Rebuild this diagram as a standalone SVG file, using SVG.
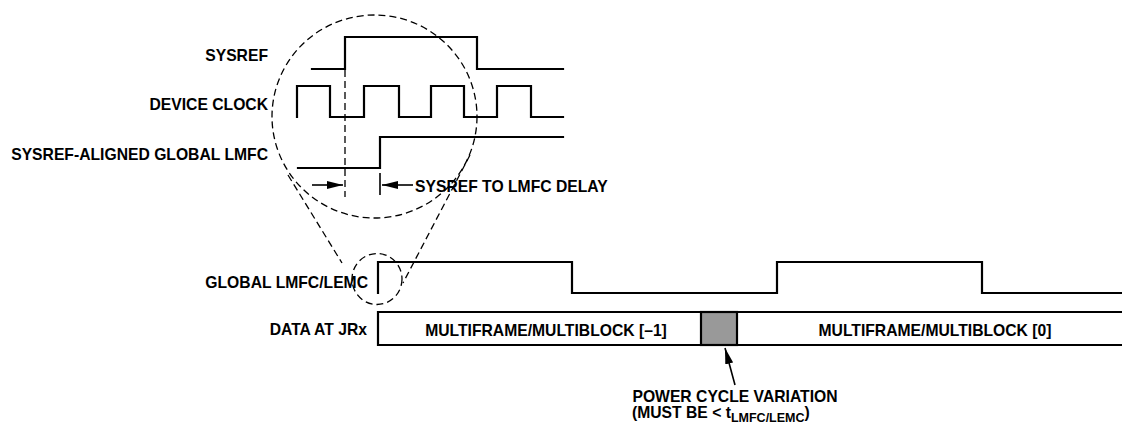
<svg xmlns="http://www.w3.org/2000/svg" width="1122" height="423" viewBox="0 0 1122 423">
<style>
text{font-family:"Liberation Sans",Arial,sans-serif;font-weight:bold;font-size:15.7px;fill:#000}
.w{fill:none;stroke:#000;stroke-width:2.2;stroke-linejoin:miter;stroke-linecap:square}
.d{fill:none;stroke:#000;stroke-width:1.3;stroke-dasharray:7 4}
.a{stroke:#000;stroke-width:1.6;fill:none}
.end{text-anchor:end}
.mid{text-anchor:middle}
.sub{font-size:12.5px}
</style>
<defs>
<marker id="ah" viewBox="0 0 16 8" refX="16" refY="4" markerWidth="16" markerHeight="8" markerUnits="userSpaceOnUse" orient="auto"><path d="M0,0 L16,4 L0,8 z" fill="#000"/></marker>
</defs>
<rect width="1122" height="423" fill="#fff"/>
<g id="sysref">
<text class="end" x="268" y="61">SYSREF</text>
<path class="w" d="M312,69 H345 V37 H477 V69 H563"/>
</g>
<g id="device-clock">
<text class="end" x="268" y="110">DEVICE CLOCK</text>
<path class="w" d="M297,117 V86 H330 V117 H364 V86 H399 V117 H431 V86 H464 V117 H497 V86 H531 V117 H563"/>
</g>
<g id="sysref-aligned-lmfc">
<text class="end" x="268" y="160">SYSREF-ALIGNED GLOBAL LMFC</text>
<path class="w" d="M298,168 H380 V137 H563"/>
</g>
<g id="delay-label">
<text x="415" y="192">SYSREF TO LMFC DELAY</text>
</g>
<g id="global-lmfc">
<text class="end" x="368" y="288">GLOBAL LMFC/LEMC</text>
<path class="w" d="M378,293 V262 H572 V293 H777 V262 H982 V293 H1124"/>
</g>
<g id="data-at-jrx">
<text class="end" x="367" y="335">DATA AT JRx</text>
<path class="w" d="M1124,312 H378 V345 H1124"/>
<rect x="701" y="312" width="36" height="33" fill="#999" stroke="#000" stroke-width="2.2"/>
<text class="mid" x="546" y="336">MULTIFRAME/MULTIBLOCK [–1]</text>
<text class="mid" x="935" y="336">MULTIFRAME/MULTIBLOCK [0]</text>
</g>
<g id="power-cycle-label">
<text class="mid" x="735" y="402">POWER CYCLE VARIATION</text>
<text x="632" y="418">(MUST BE &lt; t<tspan class="sub" dy="4">LMFC/LEMC</tspan><tspan dy="-4">)</tspan></text>
</g>
<g id="zoom-callout">
<ellipse class="d" cx="374.5" cy="116.5" rx="102.5" ry="101.5"/>
<ellipse class="d" cx="377" cy="279" rx="25" ry="25.5"/>
<path class="d" d="M288,175 L342,263"/>
<path class="d" d="M470,155 L403,283"/>
<path class="d" d="M345,70 V197"/>
</g>
<g id="connectors">
<path class="a" d="M312,185 H343" marker-end="url(#ah)"/>
<path class="a" d="M380,173 V195"/>
<path class="a" d="M413,185 H382" marker-end="url(#ah)"/>
<path class="a" d="M735,385 L725,348" marker-end="url(#ah)"/>
</g>
</svg>
